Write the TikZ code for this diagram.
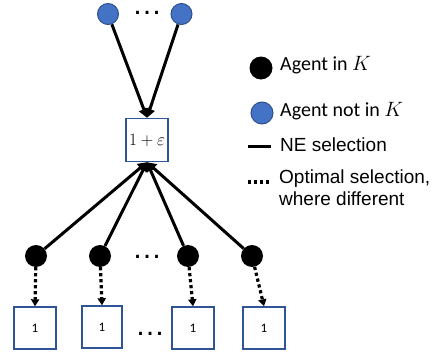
\documentclass[tikz,border=0pt]{standalone}
\usepackage{fontspec}
\setmainfont{Carlito}
\newfontfamily\arialfont{Liberation Sans}
\usetikzlibrary{arrows.meta}
\definecolor{agentblue}{HTML}{4472C4}
\definecolor{agentrim}{HTML}{2F528F}
\definecolor{boxrim}{HTML}{2F5597}
\tikzset{>={Triangle[width=10pt,length=9pt]},x=1pt,y=-1pt,
  inK/.style={circle,fill=black,minimum size=22pt,inner sep=0pt},
  notK/.style={circle,fill=agentblue,draw=agentrim,line width=1pt,minimum size=21pt,inner sep=0pt},
  res/.style={draw=boxrim,line width=1.4pt,fill=white,minimum width=42pt,minimum height=42pt,inner sep=0pt,font=\fontsize{13}{13}\selectfont},
  ne/.style={->,line width=3pt},
  opt/.style={->,line width=3.2pt,dash pattern=on 3.2pt off 2.8pt,>={Triangle[width=8pt,length=7pt]}},
  more/.style={anchor=base,inner sep=0pt,text height=4pt,text depth=0pt,font=\arialfont\fontsize{30}{30}\selectfont},
  lbl/.style={anchor=base west,inner sep=0pt,font=\fontsize{20}{20}\selectfont}}

\begin{document}
\begin{tikzpicture}
              \useasboundingbox (0,0) rectangle (440,356);

              % agents outside K and the shared resource
              \node[notK] (tl) at (108,14) {};
              \node[notK] (tr) at (181.5,14) {};
              \node[more] (topdots) at (147,14.5) {…};
              \node[res,minimum height=43pt,font=\fontsize{16}{16}\selectfont] (eps) at (147,140) {$1+\varepsilon$};

              % agents in K
              \node[inK] (k1) at (36,256) {};
              \node[inK] (k2) at (100,256) {};
              \node[inK] (k3) at (188,256) {};
              \node[inK] (k4) at (252,256) {};
              \node[more] (kdots) at (147,258) {…};

              % their own resources
              \node[res] (b1) at (35,328) {1};
              \node[res,minimum width=40pt] (b2) at (102,327) {1};
              \node[res] (b3) at (193,328) {1};
              \node[res] (b4) at (264,328) {1};
              \node[more] (bdots) at (150,335) {…};

              \path[ne]
              (tl) edge (eps.north)
              (tr) edge (eps.north)

              (k1) edge (eps.south)
              (k2) edge (eps.south)
              (k3) edge (eps.south)
              (k4) edge (eps.south)

              (k1) edge [opt] (b1.north)
              (k2) edge [opt] (b2.north)
              (k3) edge [opt] (b3.north)
              (k4) edge [opt] (b4.north)
              ;

              % legend
              \node[inK,minimum size=23pt] (keyin) at (261,68) {};
              \node[lbl] (txtin) at (280,70.5) {Agent in $K$};
              \node[notK,minimum size=22pt] (keyout) at (262,113) {};
              \node[lbl] (txtout) at (280,116) {Agent not in $K$};

              \coordinate (ne1) at (248,146);
              \coordinate (ne2) at (271,146);
              \draw[line width=3pt] (ne1) -- (ne2);
              \node[lbl,font=\arialfont\fontsize{19}{19}\selectfont] (txtne) at (280,151) {NE selection};

              \coordinate (op1) at (248,182);
              \coordinate (op2) at (270,182);
              \draw[line width=3.2pt,dash pattern=on 3.2pt off 2.8pt] (op1) -- (op2);
              \node[lbl,font=\arialfont\fontsize{19}{19}\selectfont] (txtopt) at (279,183) {Optimal selection,};
              \node[lbl,font=\arialfont\fontsize{19}{19}\selectfont] (txtwhere) at (279,205) {where different};
            \end{tikzpicture}
\end{document}
